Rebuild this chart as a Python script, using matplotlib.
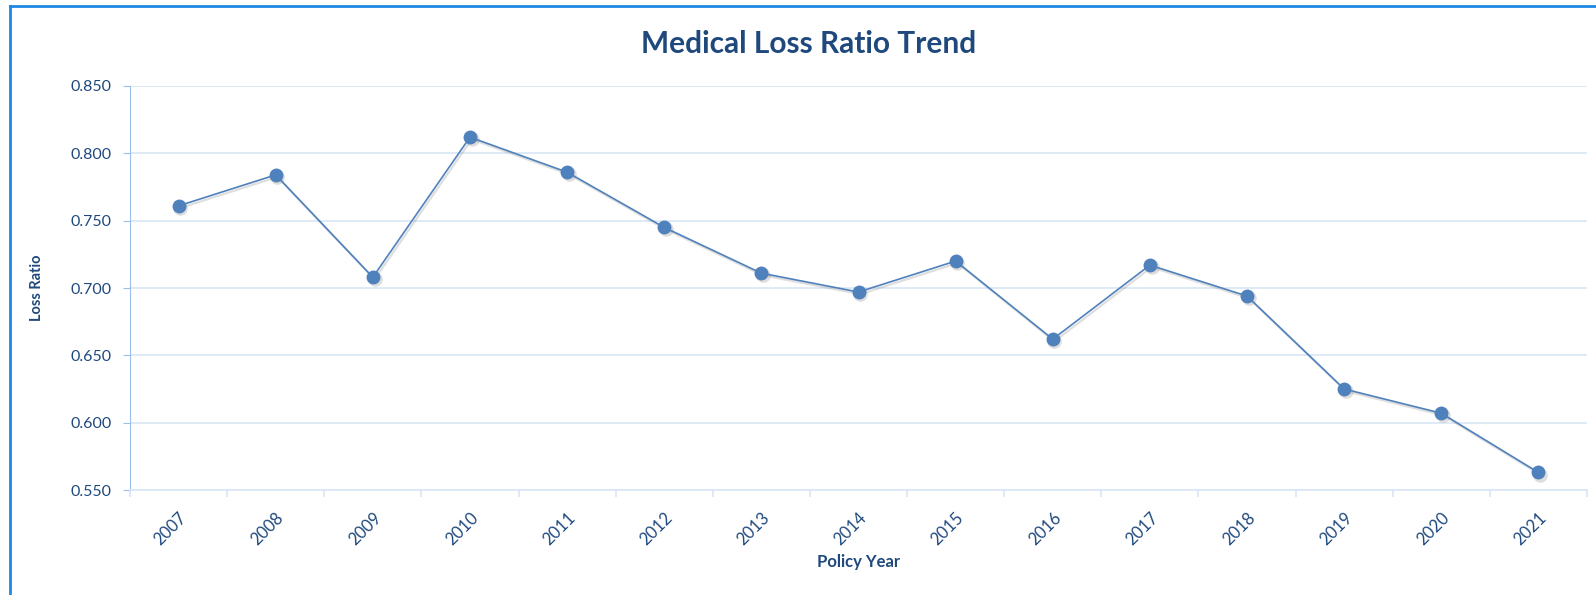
import matplotlib
matplotlib.use("Agg")
import matplotlib.pyplot as plt
import matplotlib.transforms as mtransforms
from matplotlib.lines import Line2D

# Dados do gráfico
anos = ["2007", "2008", "2009", "2010", "2011", "2012", "2013", "2014",
        "2015", "2016", "2017", "2018", "2019", "2020", "2021"]
loss_ratio = [0.761, 0.784, 0.708, 0.812, 0.786, 0.745, 0.711, 0.697,
              0.720, 0.662, 0.717, 0.694, 0.625, 0.607, 0.563]
y_ticks = [0.550, 0.600, 0.650, 0.700, 0.750, 0.800, 0.850]

azul_texto = "#1F497D"
azul_linha = "#4F81BD"
azul_grade = "#D9E6F6"
azul_eixo = "#9DBEEA"

plt.rcParams["font.family"] = ["Lato", "DejaVu Sans"]

fig = plt.figure(figsize=(15.96, 5.95), dpi=100)
ax = fig.add_axes([130 / 1596, 1 - 490 / 595, (1587 - 130) / 1596, (490 - 86) / 595])

x = list(range(len(anos)))

# Sombra suave deslocada (estilo Excel)
sombra = mtransforms.offset_copy(ax.transData, fig=fig, x=1.2, y=-1.5, units="points")
ax.plot(x, loss_ratio, color="#7F7F7F", alpha=0.25, linewidth=1.6, marker="o",
        markersize=10.5, markeredgewidth=0, transform=sombra, zorder=2)

ax.plot(x, loss_ratio, color=azul_linha, linewidth=1.2, marker="o",
        markersize=10, markeredgewidth=0, zorder=3)

ax.set_xlim(-0.5, len(anos) - 0.5)
ax.set_ylim(y_ticks[0], y_ticks[-1])
ax.set_yticks(y_ticks)
ax.set_yticklabels([f"{v:.3f}" for v in y_ticks])
ax.set_xticks(x)
ax.set_xticklabels(anos, rotation=45, ha="right", rotation_mode="anchor")
ax.set_xticks([i - 0.5 for i in range(len(anos) + 1)], minor=True)

ax.grid(axis="y", color=azul_grade, linewidth=1.2)
ax.set_axisbelow(True)

for lado in ["top", "right"]:
    ax.spines[lado].set_visible(False)
ax.spines["left"].set_color(azul_eixo)
ax.spines["bottom"].set_color(azul_grade)
ax.spines["bottom"].set_linewidth(1.2)

ax.tick_params(axis="x", which="major", length=0, pad=14,
               labelsize=12, labelcolor=azul_texto)
ax.tick_params(axis="x", which="minor", length=5, color=azul_grade, width=1.2)
ax.tick_params(axis="y", length=5, color=azul_eixo, labelsize=11.5,
               labelcolor=azul_texto, pad=8)

ax.set_xlabel("Policy Year", fontsize=12, fontweight="bold", color=azul_texto,
              labelpad=4)
ax.set_ylabel("Loss Ratio", fontsize=10.5, fontweight="bold", color=azul_texto,
              labelpad=19)

fig.text(809 / 1596, 1 - 44 / 595, "Medical Loss Ratio Trend", fontsize=21.5,
         fontweight="bold", color=azul_texto, ha="center", va="center")

# Borda azul da área do gráfico (topo e esquerda)
borda = "#1E88E5"
fig.add_artist(Line2D([10 / 1596, 1], [1 - 6 / 595, 1 - 6 / 595],
                      color=borda, linewidth=2, transform=fig.transFigure))
fig.add_artist(Line2D([10 / 1596, 10 / 1596], [0, 1 - 6 / 595],
                      color=borda, linewidth=2, transform=fig.transFigure))

fig.savefig("out.png", dpi=100)
